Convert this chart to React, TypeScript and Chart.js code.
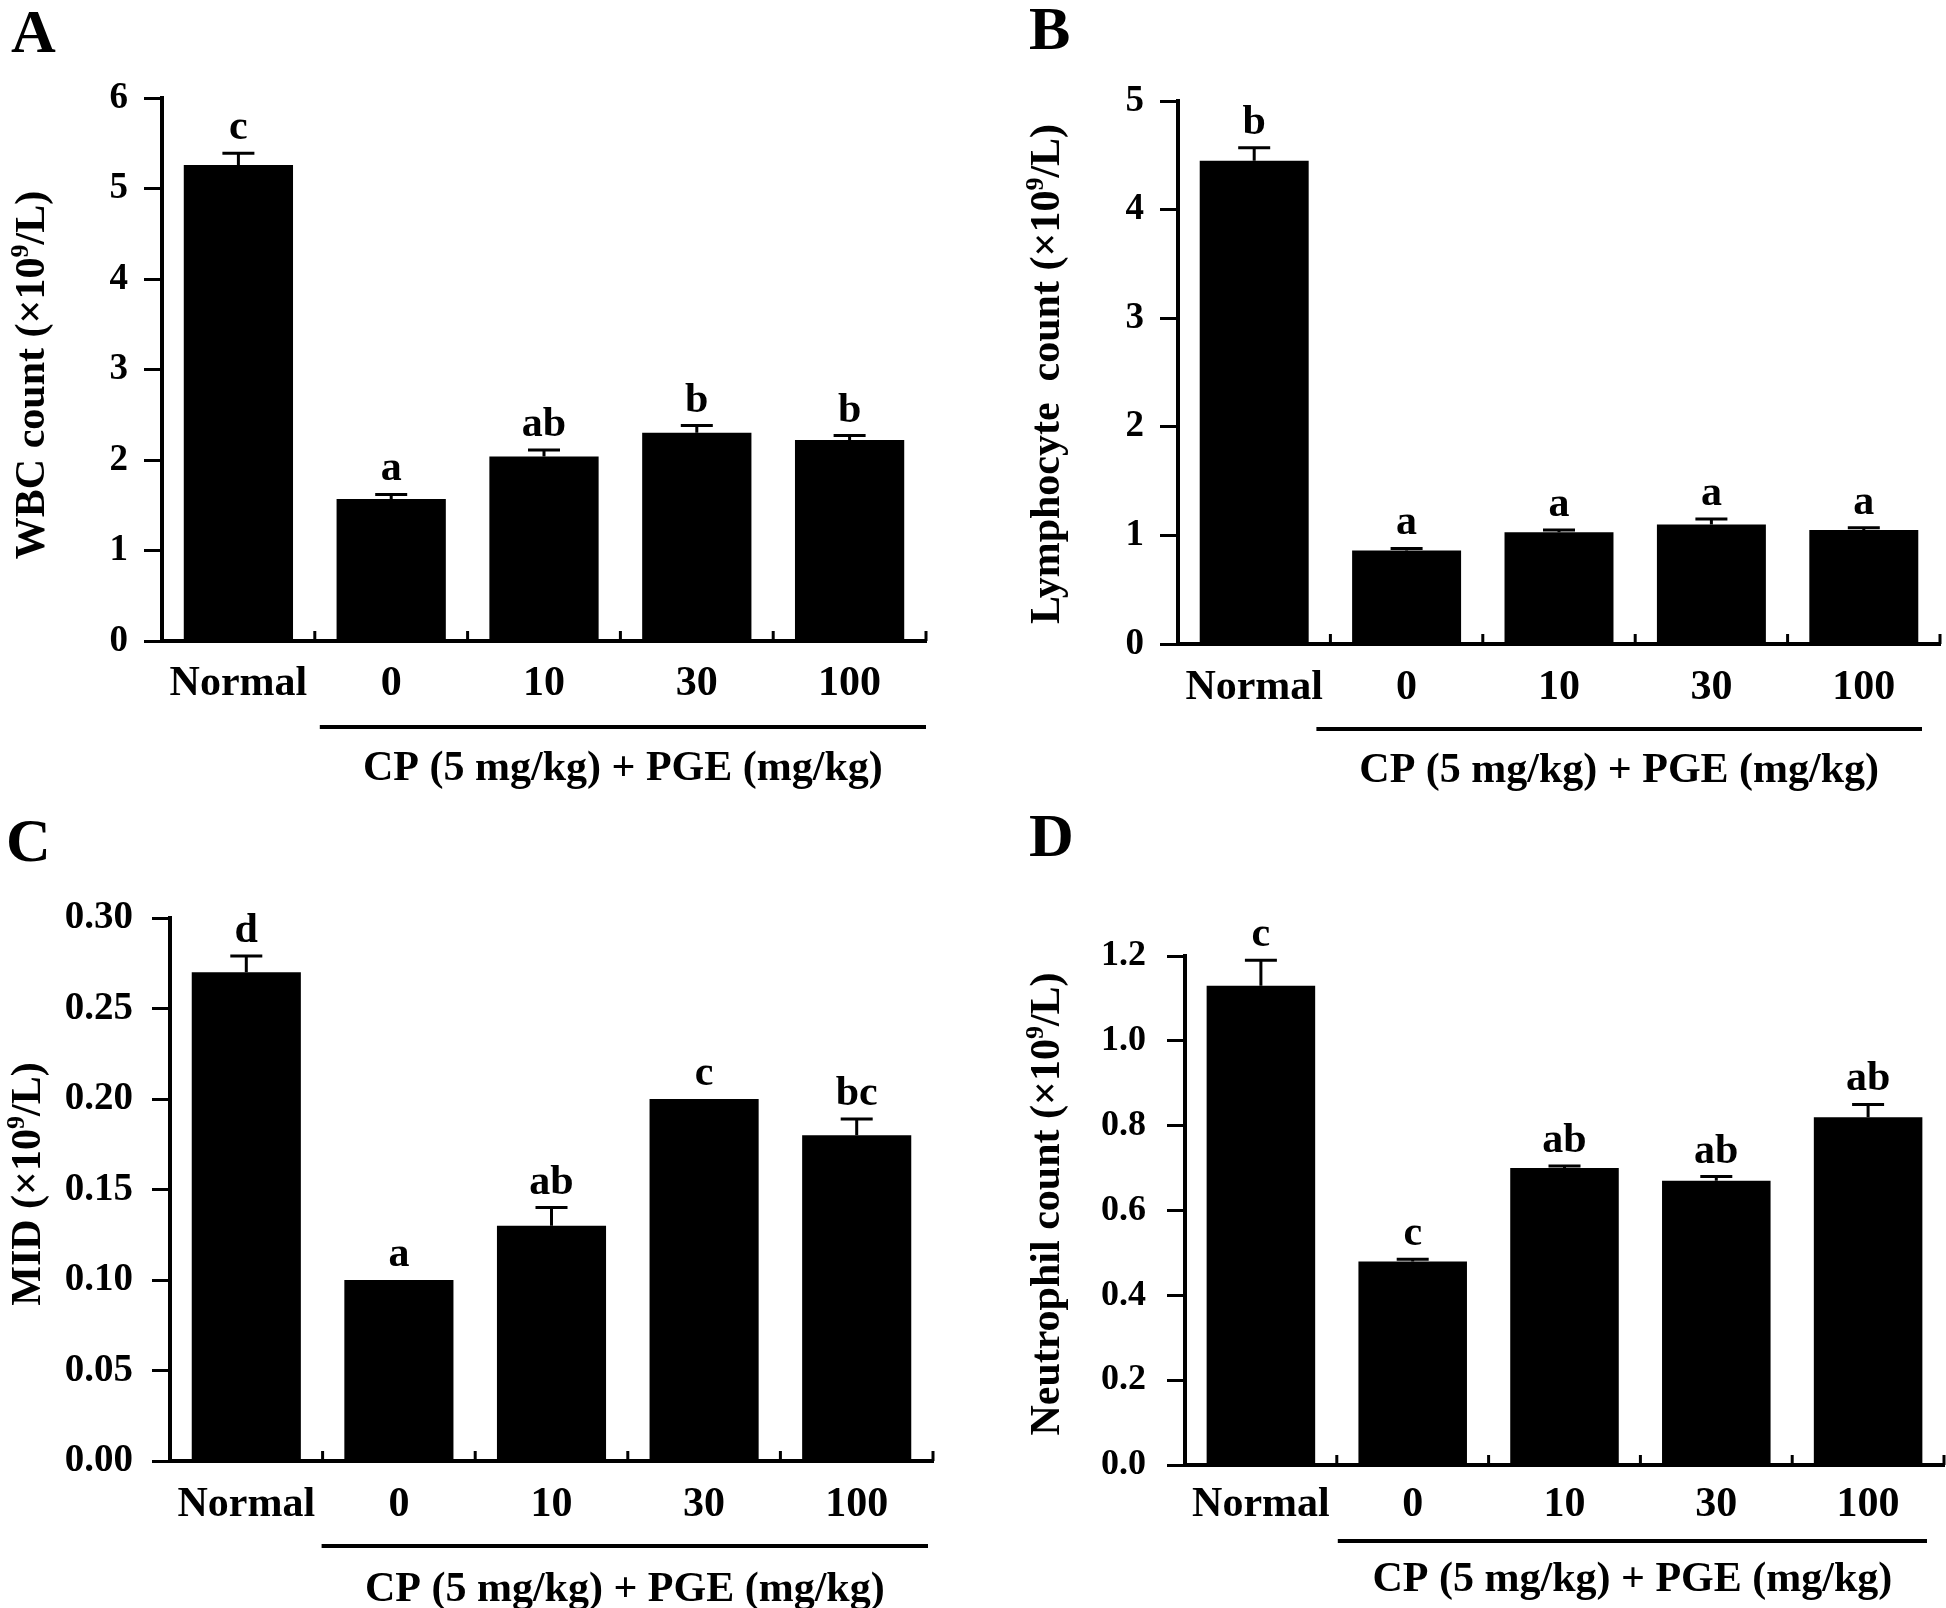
import React, { useEffect, useRef } from 'react';
import { Chart, registerables } from 'chart.js';

Chart.register(...registerables);

// ---------------- data ----------------
const categories = ['Normal', '0', '10', '30', '100'];
const groupLabel = 'CP (5 mg/kg) + PGE (mg/kg)';

const wbcValues = [5.26, 1.57, 2.04, 2.3, 2.22];
const wbcErrors = [0.13, 0.05, 0.07, 0.08, 0.05];
const wbcLetters = ['c', 'a', 'ab', 'b', 'b'];
const wbcTicks = ['0', '1', '2', '3', '4', '5', '6'];

const lymphValues = [4.45, 0.86, 1.03, 1.1, 1.05];
const lymphErrors = [0.12, 0.02, 0.02, 0.05, 0.02];
const lymphLetters = ['b', 'a', 'a', 'a', 'a'];
const lymphTicks = ['0', '1', '2', '3', '4', '5'];

const midValues = [0.27, 0.1, 0.13, 0.2, 0.18];
const midErrors = [0.009, 0, 0.01, 0, 0.009];
const midLetters = ['d', 'a', 'ab', 'c', 'bc'];
const midTicks = ['0.00', '0.05', '0.10', '0.15', '0.20', '0.25', '0.30'];

const neutValues = [1.13, 0.48, 0.7, 0.67, 0.82];
const neutErrors = [0.06, 0.005, 0.005, 0.01, 0.03];
const neutLetters = ['c', 'c', 'ab', 'ab', 'ab'];
const neutTicks = ['0.0', '0.2', '0.4', '0.6', '0.8', '1.0', '1.2'];

// ---------------- styling / layout ----------------
const FONT = "'Liberation Serif', 'Times New Roman', serif";
const W = 973;
const H = 804;

type TitlePart = { t: string; sup?: boolean };

type PanelCfg = {
  id: string;
  left: number;
  top: number;
  values: number[];
  errors: number[];
  letters: string[];
  ticks: string[];
  title: TitlePart[];
  L: number;
  R: number;
  T: number;
  B: number;
  tickFont: number;
  tickPad: number;
  xLabelPad: number;
  underOff: number;
  underStart: number;
  underEnd: number;
  cpY: number;
  titleX: number;
  titleY: number;
  letterX: number;
  letterY: number;
};

const panels: PanelCfg[] = [
  {
    id: 'A', left: 0, top: 0,
    values: wbcValues, errors: wbcErrors, letters: wbcLetters, ticks: wbcTicks,
    title: [{ t: 'WBC count (\u00d710' }, { t: '9', sup: true }, { t: '/L)' }],
    L: 162, R: 926, T: 98, B: 641,
    tickFont: 37, tickPad: 16, xLabelPad: 18,
    underOff: 86, underStart: 5, underEnd: 0, cpY: 769,
    titleX: 31, titleY: 375, letterX: 11, letterY: 52,
  },
  {
    id: 'B', left: 973, top: 0,
    values: lymphValues, errors: lymphErrors, letters: lymphLetters, ticks: lymphTicks,
    title: [{ t: 'Lymphocyte  count (\u00d710' }, { t: '9', sup: true }, { t: '/L)' }],
    L: 205, R: 967, T: 101, B: 644,
    tickFont: 37, tickPad: 16, xLabelPad: 19,
    underOff: 85, underStart: -14, underEnd: -18, cpY: 771,
    titleX: 73, titleY: 374, letterX: 56, letterY: 49,
  },
  {
    id: 'C', left: 0, top: 804,
    values: midValues, errors: midErrors, letters: midLetters, ticks: midTicks,
    title: [{ t: 'MID (\u00d710' }, { t: '9', sup: true }, { t: '/L)' }],
    L: 170, R: 933, T: 114, B: 657,
    tickFont: 39, tickPad: 19, xLabelPad: 19,
    underOff: 85, underStart: -1, underEnd: -5, cpY: 786,
    titleX: 27, titleY: 380, letterX: 6, letterY: 57,
  },
  {
    id: 'D', left: 973, top: 804,
    values: neutValues, errors: neutErrors, letters: neutLetters, ticks: neutTicks,
    title: [{ t: 'Neutrophil count (\u00d710' }, { t: '9', sup: true }, { t: '/L)' }],
    L: 212, R: 971, T: 152, B: 661,
    tickFont: 36, tickPad: 21, xLabelPad: 15,
    underOff: 76, underStart: 1, underEnd: -17, cpY: 776,
    titleX: 73, titleY: 400, letterX: 56, letterY: 52,
  },
];

const X_H = 100;

function makeAnnotPlugin(cfg: PanelCfg) {
  return {
    id: 'annot' + cfg.id,
    afterDatasetsDraw(chart: any) {
      const ctx: CanvasRenderingContext2D = chart.ctx;
      const y = chart.scales.y;
      const meta = chart.getDatasetMeta(0);
      ctx.save();
      ctx.strokeStyle = '#000';
      ctx.fillStyle = '#000';
      ctx.lineWidth = 3;
      meta.data.forEach((bar: any, i: number) => {
        const v = cfg.values[i];
        const e = cfg.errors[i];
        const yTop = y.getPixelForValue(v);
        const yErr = y.getPixelForValue(v + e);
        if (e > 0) {
          ctx.beginPath();
          ctx.moveTo(bar.x, yTop);
          ctx.lineTo(bar.x, yErr);
          ctx.moveTo(bar.x - 16, yErr);
          ctx.lineTo(bar.x + 16, yErr);
          ctx.stroke();
        }
        ctx.font = `bold 42px ${FONT}`;
        ctx.textAlign = 'center';
        ctx.textBaseline = 'alphabetic';
        ctx.fillText(cfg.letters[i], bar.x, Math.min(yErr, yTop) - 14);
      });
      ctx.restore();
    },
    afterDraw(chart: any) {
      const ctx: CanvasRenderingContext2D = chart.ctx;
      const x = chart.scales.x;
      const area = chart.chartArea;
      ctx.save();
      ctx.strokeStyle = '#000';
      ctx.fillStyle = '#000';
      // inward ticks on the x axis at category boundaries
      ctx.lineWidth = 3;
      for (let i = 0; i < categories.length; i++) {
        const px = x.getPixelForValue(i + 0.5);
        ctx.beginPath();
        ctx.moveTo(px, area.bottom);
        ctx.lineTo(px, area.bottom - 10);
        ctx.stroke();
      }
      // group underline
      const x0 = x.getPixelForValue(0.5) + cfg.underStart;
      const x1 = area.right + cfg.underEnd;
      const uy = area.bottom + cfg.underOff;
      ctx.lineWidth = 4;
      ctx.beginPath();
      ctx.moveTo(x0, uy);
      ctx.lineTo(x1, uy);
      ctx.stroke();
      // group label
      ctx.font = `bold 42px ${FONT}`;
      ctx.textAlign = 'center';
      ctx.textBaseline = 'middle';
      ctx.fillText(groupLabel, (x0 + x1) / 2, cfg.cpY);
      // y title (rotated, with superscript)
      const size = 42;
      const supSize = 26;
      ctx.save();
      ctx.translate(cfg.titleX, cfg.titleY);
      ctx.rotate(-Math.PI / 2);
      ctx.textAlign = 'left';
      ctx.textBaseline = 'alphabetic';
      let total = 0;
      const widths = cfg.title.map((p) => {
        ctx.font = `bold ${p.sup ? supSize : size}px ${FONT}`;
        const w = ctx.measureText(p.t).width;
        total += w;
        return w;
      });
      let cx = -total / 2;
      const base = size * 0.32;
      cfg.title.forEach((p, i) => {
        ctx.font = `bold ${p.sup ? supSize : size}px ${FONT}`;
        ctx.fillText(p.t, cx, p.sup ? base - size * 0.38 : base);
        cx += widths[i];
      });
      ctx.restore();
      // panel letter
      ctx.font = `bold 62px ${FONT}`;
      ctx.textAlign = 'left';
      ctx.textBaseline = 'alphabetic';
      ctx.fillText(cfg.id, cfg.letterX, cfg.letterY);
      ctx.restore();
    },
  };
}

function Panel({ cfg }: { cfg: PanelCfg }) {
  const ref = useRef<HTMLCanvasElement | null>(null);
  useEffect(() => {
    if (!ref.current) return;
    const yMax = Number(cfg.ticks[cfg.ticks.length - 1]);
    const step = Number(cfg.ticks[1]) - Number(cfg.ticks[0]);
    const chart = new Chart(ref.current, {
      type: 'bar',
      data: {
        labels: categories,
        datasets: [
          {
            data: cfg.values,
            backgroundColor: '#000',
            borderWidth: 0,
            barPercentage: 0.715,
            categoryPercentage: 1,
          },
        ],
      },
      options: {
        animation: false,
        responsive: false,
        maintainAspectRatio: false,
        devicePixelRatio: 1,
        layout: {
          padding: { left: 0, top: cfg.T, right: W - cfg.R, bottom: H - cfg.B - X_H },
        },
        plugins: {
          legend: { display: false },
          tooltip: { enabled: false },
          title: { display: false },
        },
        scales: {
          x: {
            type: 'category',
            offset: true,
            grid: { display: false, drawTicks: false },
            border: { display: true, width: 4, color: '#000' },
            ticks: {
              color: '#000',
              padding: cfg.xLabelPad,
              maxRotation: 0,
              autoSkip: false,
              font: { family: FONT, size: 42, weight: 'bold' },
            },
            afterFit: (s: any) => {
              s.height = X_H;
            },
          },
          y: {
            min: 0,
            max: yMax,
            ticks: {
              stepSize: step,
              color: '#000',
              padding: cfg.tickPad,
              font: { family: FONT, size: cfg.tickFont, weight: 'bold' },
              callback: (_v: any, i: number) => cfg.ticks[i],
            },
            grid: {
              drawOnChartArea: false,
              drawTicks: true,
              tickLength: 18,
              tickWidth: 3,
              tickColor: '#000',
              color: '#000',
            },
            border: { display: true, width: 4, color: '#000' },
            afterFit: (s: any) => {
              s.width = cfg.L;
            },
          },
        },
      } as any,
      plugins: [makeAnnotPlugin(cfg)],
    });
    return () => chart.destroy();
  }, [cfg]);
  return (
    <canvas
      ref={ref}
      width={W}
      height={H}
      style={{ position: 'absolute', left: cfg.left, top: cfg.top, width: W, height: H }}
    />
  );
}

export default function App() {
  return (
    <div
      style={{
        position: 'absolute',
        left: 0,
        top: 0,
        width: 1946,
        height: 1608,
        background: '#fff',
        overflow: 'hidden',
      }}
    >
      {panels.map((p) => (
        <Panel key={p.id} cfg={p} />
      ))}
    </div>
  );
}
